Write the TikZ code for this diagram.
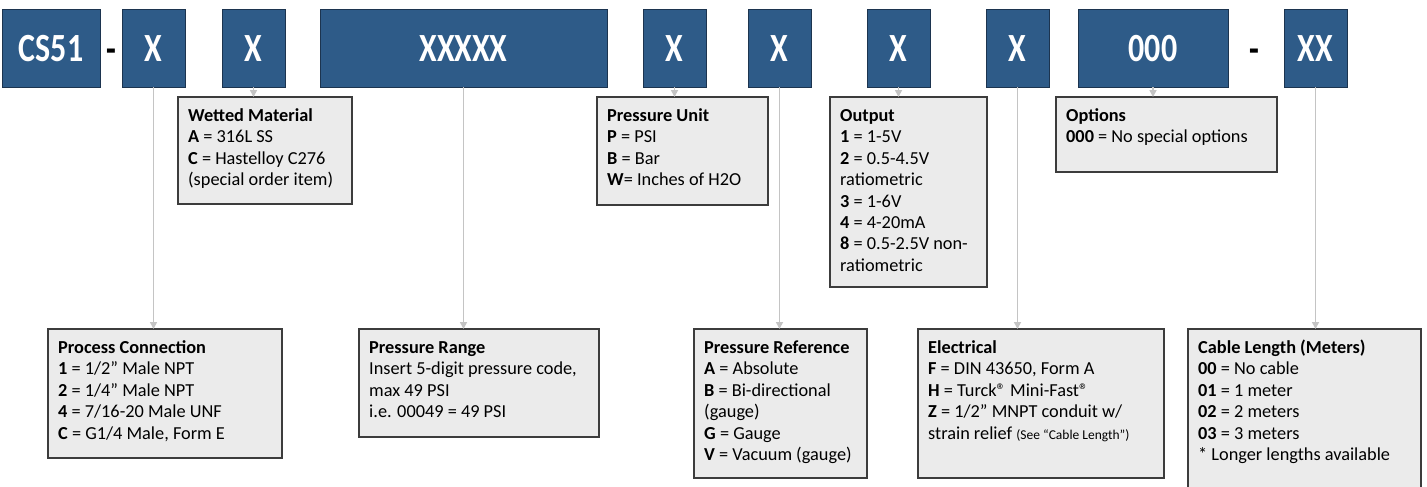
\documentclass[tikz,border=0pt]{standalone}
\usepackage{fontspec}
\setmainfont{Carlito}
\newfontfamily\hdrfont[FakeStretch=0.8]{Carlito}
\usetikzlibrary{arrows.meta}
\definecolor{hdrblue}{HTML}{2E5B88}
\definecolor{hdrborder}{HTML}{1C344F}
\definecolor{boxfill}{HTML}{EBEBEB}
\definecolor{boxborder}{HTML}{3C3C3C}
\definecolor{connclr}{HTML}{C4C4C4}
\tikzset{
  hdr/.style={draw=hdrborder, fill=hdrblue, line width=1pt, text=white,
    font=\hdrfont\bfseries\fontsize{40}{40}\selectfont, inner sep=0pt, outer sep=0pt, anchor=north west},
  dashtxt/.style={text=black, font=\hdrfont\bfseries\fontsize{40}{40}\selectfont, inner sep=0pt},
  gbox/.style={draw=boxborder, fill=boxfill, line width=1.2pt, inner sep=0pt, outer sep=0pt, anchor=north west},
  txt/.style={font=\fontsize{18.3}{21.4}\selectfont, text=black, inner sep=0pt, anchor=base west},
  conn/.style={draw=connclr, line width=1.6pt, -{Triangle[width=7pt,length=7pt]}}
}
\begin{document}
\begin{tikzpicture}[x=1pt,y=-1pt]
\useasboundingbox (0,0) rectangle (1427,487);
\clip (0,0) rectangle (1427,487);
% header boxes
\node[hdr, minimum width=98pt, minimum height=77pt] (hcs) at (2,10) {CS51};
\node[dashtxt] (d1) at (111,56) {-};
\node[hdr, minimum width=63pt, minimum height=77pt] (hx1) at (122,10) {X};
\node[hdr, minimum width=63pt, minimum height=77pt] (hx2) at (222,10) {X};
\node[hdr, minimum width=287pt, minimum height=77pt] (hx3) at (320,10) {XXXXX};
\node[hdr, minimum width=63pt, minimum height=77pt] (hx4) at (643,10) {X};
\node[hdr, minimum width=63pt, minimum height=77pt] (hx5) at (748,10) {X};
\node[hdr, minimum width=63pt, minimum height=77pt] (hx6) at (867,10) {X};
\node[hdr, minimum width=63pt, minimum height=77pt] (hx7) at (986,10) {X};
\node[hdr, minimum width=150pt, minimum height=77pt] (hx8) at (1078,10) {000};
\node[dashtxt] (d2) at (1254,56) {-};
\node[hdr, minimum width=63pt, minimum height=77pt] (hx9) at (1284,10) {XX};
% upper boxes
\node[gbox, minimum width=174pt, minimum height=107pt] (wm) at (178,97) {};
\node[gbox, minimum width=171pt, minimum height=108pt] (pu) at (597,97) {};
\node[gbox, minimum width=157pt, minimum height=190pt] (out) at (830,97) {};
\node[gbox, minimum width=221pt, minimum height=75pt] (opt) at (1056,97) {};
% lower boxes
\node[gbox, minimum width=234pt, minimum height=129pt] (pc) at (48,329) {};
\node[gbox, minimum width=240pt, minimum height=108pt] (pr) at (359,329) {};
\node[gbox, minimum width=173pt, minimum height=149pt] (pref) at (694,329) {};
\node[gbox, minimum width=246pt, minimum height=149pt] (el) at (918,329) {};
\node[gbox, minimum width=233pt, minimum height=170pt] (cl) at (1188,329) {};
% texts
\node[txt] (twm) at (188,121.5) {\begin{tabular}[t]{@{}l@{}}\textbf{Wetted Material}\\ \textbf{A} = 316L SS\\ \textbf{C} = Hastelloy C276\\ (special order item)\end{tabular}};
\node[txt] (tpu) at (607,121.5) {\begin{tabular}[t]{@{}l@{}}\textbf{Pressure Unit}\\ \textbf{P} = PSI\\ \textbf{B} = Bar\\ \textbf{W}= Inches of H2O\end{tabular}};
\node[txt] (tout) at (840,121.5) {\begin{tabular}[t]{@{}l@{}}\textbf{Output}\\ \textbf{1} = 1-5V\\ \textbf{2} = 0.5-4.5V\\ ratiometric\\ \textbf{3} = 1-6V\\ \textbf{4} = 4-20mA\\ \textbf{8} = 0.5-2.5V non-\\ ratiometric\end{tabular}};
\node[txt] (topt) at (1066,121.5) {\begin{tabular}[t]{@{}l@{}}\textbf{Options}\\ \textbf{000} = No special options\end{tabular}};
\node[txt] (tpc) at (58,353.5) {\begin{tabular}[t]{@{}l@{}}\textbf{Process Connection}\\ \textbf{1} = 1/2” Male NPT\\ \textbf{2} = 1/4” Male NPT\\ \textbf{4} = 7/16-20 Male UNF\\ \textbf{C} = G1/4 Male, Form E\end{tabular}};
\node[txt] (tpr) at (369,353.5) {\begin{tabular}[t]{@{}l@{}}\textbf{Pressure Range}\\ Insert 5-digit pressure code,\\ max 49 PSI\\ i.e. 00049 = 49 PSI\end{tabular}};
\node[txt] (tpref) at (704,353.5) {\begin{tabular}[t]{@{}l@{}}\textbf{Pressure Reference}\\ \textbf{A} = Absolute\\ \textbf{B} = Bi-directional\\ (gauge)\\ \textbf{G} = Gauge\\ \textbf{V} = Vacuum (gauge)\end{tabular}};
\node[txt] (tel) at (928,353.5) {\begin{tabular}[t]{@{}l@{}}\textbf{Electrical}\\ \textbf{F} = DIN 43650, Form A\\ \textbf{H} = Turck® Mini-Fast®\\ \textbf{Z} = 1/2” MNPT conduit w/\\ strain relief {\fontsize{13.5}{13.5}\selectfont(See “Cable Length”)}\end{tabular}};
\node[txt] (tcl) at (1198,353.5) {\begin{tabular}[t]{@{}l@{}}\textbf{Cable Length (Meters)}\\ \textbf{00} = No cable\\ \textbf{01} = 1 meter\\ \textbf{02} = 2 meters\\ \textbf{03} = 3 meters\\ \relax * Longer lengths available\end{tabular}};
% connectors
\draw[conn] (hx1.south) -- (hx1.south |- pc.north);
\draw[conn] (hx2.south) -- (hx2.south |- wm.north);
\draw[conn] (hx3.south) -- (hx3.south |- pr.north);
\draw[conn] (hx4.south) -- (hx4.south |- pu.north);
\draw[conn] (hx5.south) -- (hx5.south |- pref.north);
\draw[conn] (hx6.south) -- (hx6.south |- out.north);
\draw[conn] (hx7.south) -- (hx7.south |- el.north);
\draw[conn] (hx8.south) -- (hx8.south |- opt.north);
\draw[conn] (hx9.south) -- (hx9.south |- cl.north);
\end{tikzpicture}
\end{document}
